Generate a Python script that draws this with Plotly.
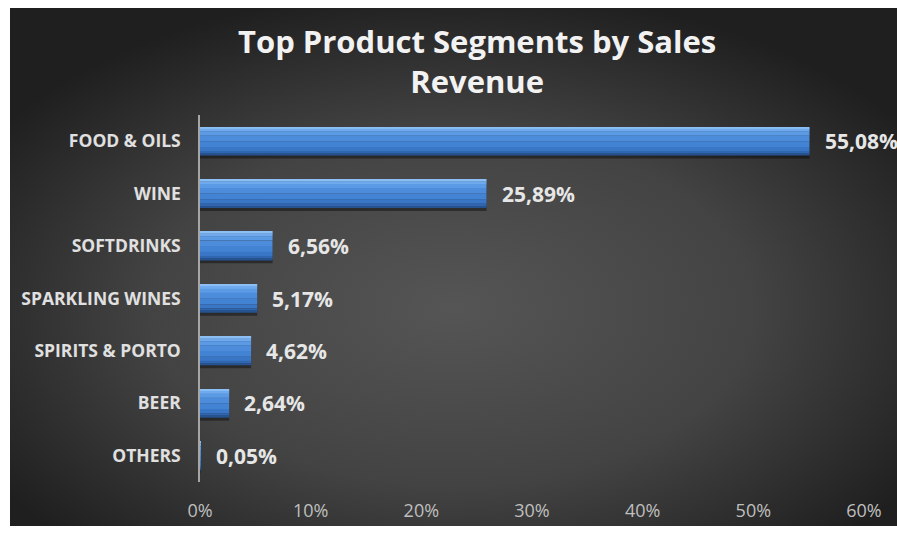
import base64
import plotly.graph_objects as go

# Sales revenue share by product segment (percent)
segments = ["FOOD & OILS", "WINE", "SOFTDRINKS", "SPARKLING WINES",
            "SPIRITS & PORTO", "BEER", "OTHERS"]
share_pct = [55.08, 25.89, 6.56, 5.17, 4.62, 2.64, 0.05]
x_ticks = [0, 10, 20, 30, 40, 50, 60]
x_tick_labels = ["0%", "10%", "20%", "30%", "40%", "50%", "60%"]
chart_title = "Top Product Segments by Sales<br>Revenue"

value_labels = [f"{v:.2f}".replace(".", ",") + "%" for v in share_pct]

FONT = "Open Sans"
W_IMG, H_IMG = 897, 533
L, R, T, B = 200, 33, 115, 51
PW, PH = W_IMG - L - R, H_IMG - T - B

# dark radial background panel, as an inline SVG
svg = (
    "<svg xmlns='http://www.w3.org/2000/svg' width='887' height='518' "
    "preserveAspectRatio='none'><defs>"
    "<radialGradient id='g' cx='0.5' cy='0.58' r='0.62'>"
    "<stop offset='0' stop-color='#555555'/>"
    "<stop offset='0.55' stop-color='#434343'/>"
    "<stop offset='1' stop-color='#1f1f1f'/>"
    "</radialGradient></defs>"
    "<rect width='100%' height='100%' fill='url(#g)'/></svg>"
)
bg_src = "data:image/svg+xml;base64," + base64.b64encode(svg.encode()).decode()


def px_to_paper_x(px):
    return (px - L) / PW


def px_to_paper_y(py):
    return (H_IMG - B - py) / PH


fig = go.Figure()

BAR_W = 0.54
# bevelled bar: soft shadow plus horizontal colour bands (top -> bottom)
fig.add_trace(go.Bar(
    x=share_pct, y=segments, orientation="h",
    width=BAR_W, offset=-BAR_W / 2 + 0.06,
    marker=dict(color="rgba(0,0,0,0.40)", line=dict(width=0)),
    hoverinfo="skip", showlegend=False,
))
bands = [
    (0.00, 0.06, "#8cc0f4"),
    (0.06, 0.16, "#6eaaed"),
    (0.16, 0.30, "#5b9ae4"),
    (0.30, 0.50, "#4d8cdb"),
    (0.50, 0.70, "#4383d3"),
    (0.70, 0.85, "#3a76c6"),
    (0.85, 0.94, "#3066b0"),
    (0.94, 1.00, "#26538f"),
]
for f0, f1, col in bands:
    fig.add_trace(go.Bar(
        x=share_pct, y=segments, orientation="h",
        width=(f1 - f0) * BAR_W + 0.004, offset=-BAR_W / 2 + f0 * BAR_W,
        marker=dict(color=col, line=dict(width=0), opacity=1),
        hoverinfo="skip", showlegend=False,
    ))

# value labels at the end of each bar
for seg, v, lab in zip(segments, share_pct, value_labels):
    fig.add_annotation(
        x=v, y=seg, xref="x", yref="y", text=lab, showarrow=False,
        xanchor="left", xshift=13,
        font=dict(family=FONT, size=21, color="#e6e6e6", weight="bold"),
    )

# two-line chart title
fig.add_annotation(
    text=chart_title, xref="paper", yref="paper",
    x=px_to_paper_x(477), y=px_to_paper_y(61),
    xanchor="center", yanchor="middle", showarrow=False,
    font=dict(family=FONT, size=31, color="#f2f2f2", weight="bold"),
)

fig.add_layout_image(
    source=bg_src, xref="paper", yref="paper",
    x=px_to_paper_x(10), y=px_to_paper_y(8),
    sizex=(W_IMG - 10) / PW, sizey=(526 - 8) / PH,
    xanchor="left", yanchor="top", sizing="stretch", layer="below",
)

fig.update_layout(
    width=W_IMG, height=H_IMG,
    margin=dict(l=L, r=R, t=T, b=B),
    paper_bgcolor="white", plot_bgcolor="rgba(0,0,0,0)",
    barmode="overlay",
    xaxis=dict(
        range=[0, 60], tickvals=x_ticks, ticktext=x_tick_labels,
        showgrid=False, zeroline=False, showline=False,
        tickfont=dict(family=FONT, size=18, color="#bfbfbf"),
        ticklabelstandoff=16, fixedrange=True,
    ),
    yaxis=dict(
        autorange="reversed", showgrid=False, zeroline=False,
        showline=True, linecolor="#a6a6a6", linewidth=1.5,
        tickfont=dict(family=FONT, size=17.5, color="#e0e0e0", weight="bold"),
        ticklabelstandoff=14, fixedrange=True,
    ),
)

fig.write_html("out.html")
